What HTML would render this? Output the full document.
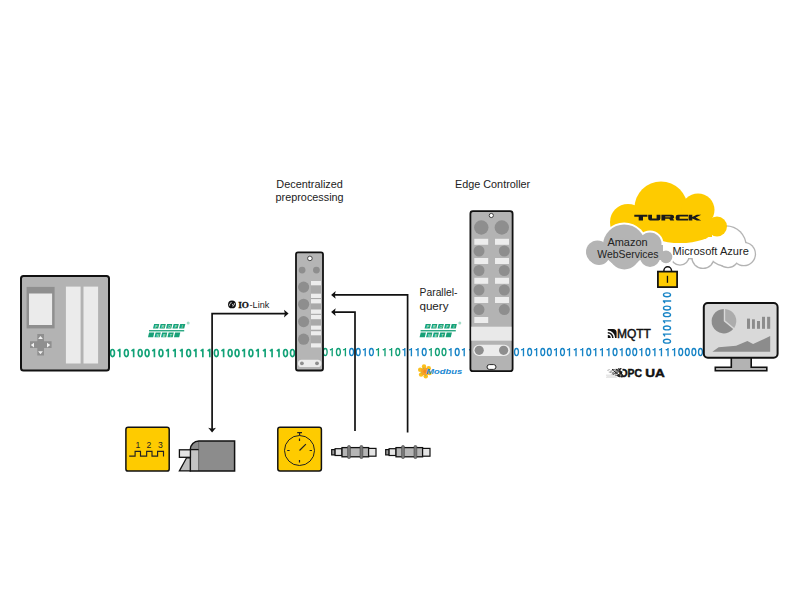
<!DOCTYPE html>
<html><head><meta charset="utf-8">
<style>
html,body{margin:0;padding:0;background:#fff;width:800px;height:600px;overflow:hidden}
svg{display:block;font-family:"Liberation Sans",sans-serif}
.lbl{font-size:10.7px;fill:#222}
.bin{font-size:11.8px;stroke-width:0.5px}
.bin .g,.bin.g{stroke:#16a077}
.bin .b,.bin.b{stroke:#1a8cca}
.g{fill:#16a077}
.b{fill:#1a8cca}
</style></head><body>
<svg width="800" height="600" viewBox="0 0 800 600">
<!-- ===== binary streams (under devices) ===== -->
<defs>
<ellipse id="d0" cx="0" cy="-4.2" rx="1.95" ry="3.55" fill="none" stroke="currentColor"/>
<path id="d1" d="M0.4 0V-8.35M0.4 -7.8L-1.8 -6.2" fill="none" stroke="currentColor"/>
</defs>
<g style="color:#12a277;stroke-width:1.65"><use href="#d0" x="112.50" y="357.2"/><use href="#d1" x="119.42" y="357.2"/><use href="#d0" x="126.34" y="357.2"/><use href="#d1" x="133.26" y="357.2"/><use href="#d0" x="140.18" y="357.2"/><use href="#d0" x="147.10" y="357.2"/><use href="#d1" x="154.02" y="357.2"/><use href="#d0" x="160.94" y="357.2"/><use href="#d1" x="167.86" y="357.2"/><use href="#d1" x="174.78" y="357.2"/><use href="#d1" x="181.70" y="357.2"/><use href="#d0" x="188.62" y="357.2"/><use href="#d1" x="195.54" y="357.2"/><use href="#d1" x="202.46" y="357.2"/><use href="#d1" x="209.38" y="357.2"/><use href="#d0" x="216.30" y="357.2"/><use href="#d1" x="223.22" y="357.2"/><use href="#d0" x="230.14" y="357.2"/><use href="#d0" x="237.06" y="357.2"/><use href="#d1" x="243.98" y="357.2"/><use href="#d0" x="250.90" y="357.2"/><use href="#d1" x="257.82" y="357.2"/><use href="#d1" x="264.74" y="357.2"/><use href="#d1" x="271.66" y="357.2"/><use href="#d1" x="278.58" y="357.2"/><use href="#d0" x="285.50" y="357.2"/><use href="#d0" x="292.42" y="357.2"/></g>
<g style="color:#12a076;stroke-width:1.35"><use href="#d0" x="325.20" y="356.3"/><use href="#d1" x="331.80" y="356.3"/><use href="#d0" x="338.40" y="356.3"/><use href="#d1" x="345.00" y="356.3"/></g>
<g style="color:#1784c6;stroke-width:1.35"><use href="#d0" x="351.60" y="356.3"/><use href="#d0" x="358.20" y="356.3"/><use href="#d1" x="364.80" y="356.3"/><use href="#d0" x="371.40" y="356.3"/></g>
<g style="color:#12a076;stroke-width:1.35"><use href="#d1" x="378.00" y="356.3"/><use href="#d1" x="384.60" y="356.3"/><use href="#d1" x="391.20" y="356.3"/><use href="#d0" x="397.80" y="356.3"/></g>
<g style="color:#1784c6;stroke-width:1.35"><use href="#d1" x="404.40" y="356.3"/><use href="#d1" x="411.00" y="356.3"/><use href="#d1" x="417.60" y="356.3"/><use href="#d0" x="424.20" y="356.3"/></g>
<g style="color:#12a076;stroke-width:1.35"><use href="#d1" x="430.80" y="356.3"/><use href="#d0" x="437.40" y="356.3"/><use href="#d0" x="444.00" y="356.3"/></g>
<g style="color:#1784c6;stroke-width:1.35"><use href="#d1" x="450.60" y="356.3"/><use href="#d0" x="457.20" y="356.3"/><use href="#d1" x="463.80" y="356.3"/><use href="#d1" x="471" y="356.3"/></g>
<g style="color:#1784c6;stroke-width:1.35"><use href="#d0" x="516.50" y="356.3"/><use href="#d1" x="523.07" y="356.3"/><use href="#d0" x="529.64" y="356.3"/><use href="#d1" x="536.21" y="356.3"/><use href="#d0" x="542.78" y="356.3"/><use href="#d0" x="549.35" y="356.3"/><use href="#d1" x="555.92" y="356.3"/><use href="#d0" x="562.49" y="356.3"/><use href="#d1" x="569.06" y="356.3"/><use href="#d1" x="575.63" y="356.3"/><use href="#d1" x="582.20" y="356.3"/><use href="#d0" x="588.77" y="356.3"/><use href="#d1" x="595.34" y="356.3"/><use href="#d1" x="601.91" y="356.3"/><use href="#d1" x="608.48" y="356.3"/><use href="#d0" x="615.05" y="356.3"/><use href="#d1" x="621.62" y="356.3"/><use href="#d0" x="628.19" y="356.3"/><use href="#d0" x="634.76" y="356.3"/><use href="#d1" x="641.33" y="356.3"/><use href="#d0" x="647.90" y="356.3"/><use href="#d1" x="654.47" y="356.3"/><use href="#d1" x="661.04" y="356.3"/><use href="#d1" x="667.61" y="356.3"/><use href="#d1" x="674.18" y="356.3"/><use href="#d0" x="680.75" y="356.3"/><use href="#d0" x="687.32" y="356.3"/><use href="#d0" x="693.89" y="356.3"/><use href="#d0" x="700.46" y="356.3"/></g>

<!-- ===== PLC ===== -->
<rect x="21" y="276" width="88" height="94.5" rx="2.5" fill="#b3b3b3" stroke="#111" stroke-width="2"/>
<rect x="26.6" y="286.9" width="28" height="41.5" fill="#8f8f8f"/>
<rect x="29" y="293.5" width="23.1" height="31.5" fill="#ebebeb"/>
<rect x="65.9" y="286.6" width="14.7" height="76.9" fill="#ebebeb"/>
<rect x="83.5" y="286.6" width="14.6" height="76.9" fill="#ebebeb"/>
<path d="M37.3 334h6.7v7.3h7.6v6.7h-7.6v7.6h-6.7v-7.6h-7.3v-6.7h7.3z" fill="#8f8f8f"/>
<path d="M40.5 336L38.1 339.1H42.9z M40.5 354.3L38.1 351.2H42.9z M30.8 345.1L34 342.7V347.5z M50.3 345.1L47 342.7V347.5z" fill="#f2f2f2"/>

<!-- ===== Decentralized module ===== -->
<rect x="296" y="252.3" width="27" height="118.2" rx="2" fill="#b5b5b5" stroke="#111" stroke-width="1.8"/>
<circle cx="309.9" cy="258.4" r="2.3" fill="#fff" stroke="#222" stroke-width="0.8"/>
<circle cx="302.1" cy="270.1" r="3.4" fill="#8e8e8e"/>
<circle cx="316.4" cy="270.1" r="3.4" fill="#8e8e8e"/>
<rect x="310.8" y="281" width="10.2" height="66.5" fill="#a9a9a9"/>
<g fill="#8e8e8e">
<circle cx="303.6" cy="287.1" r="5.6"/><circle cx="303.6" cy="304.3" r="5.6"/>
<circle cx="303.6" cy="321.6" r="5.6"/><circle cx="303.6" cy="339.2" r="5.6"/>
</g>
<g fill="#ededed">
<rect x="311" y="281" width="10" height="4.3"/>
<rect x="311" y="293.7" width="10" height="4.3"/>
<rect x="311" y="299.1" width="10" height="4.3"/>
<rect x="311" y="309.5" width="10" height="4.3"/>
<rect x="311" y="314.9" width="10" height="4.3"/>
<rect x="311" y="325.6" width="10" height="4.1"/>
<rect x="311" y="331.2" width="10" height="4.1"/>
<rect x="311" y="343.3" width="10" height="4.2"/>
</g>
<rect x="298" y="359.7" width="23.3" height="7.3" rx="3.6" fill="#ececec"/>
<circle cx="301.9" cy="363.3" r="1.9" fill="#8e8e8e"/>
<circle cx="317" cy="363.3" r="1.9" fill="#8e8e8e"/>

<!-- ===== Edge controller ===== -->
<rect x="470.4" y="211.2" width="42.2" height="160" rx="2.5" fill="#b3b3b3" stroke="#111" stroke-width="1.8"/>
<circle cx="491.3" cy="215.5" r="2.1" fill="#fff" stroke="#222" stroke-width="0.8"/>
<g fill="#8e8e8e">
<circle cx="481.3" cy="227.5" r="7.2"/><circle cx="501.8" cy="227.5" r="7.2"/>
<circle cx="479" cy="251" r="5.5"/><circle cx="504.3" cy="251" r="5.5"/>
<circle cx="479" cy="270.5" r="5.5"/><circle cx="504.3" cy="270.5" r="5.5"/>
<circle cx="479" cy="290" r="5.5"/><circle cx="504.3" cy="290" r="5.5"/>
<circle cx="479" cy="309.6" r="5.5"/><circle cx="504.3" cy="309.6" r="5.5"/>
</g>
<g fill="#ededed">
<rect x="474.3" y="238.8" width="13.9" height="6"/><rect x="495" y="238.8" width="14" height="6"/>
<rect x="474.3" y="258" width="13.9" height="6"/><rect x="495" y="258" width="14" height="6"/>
<rect x="474.3" y="277.8" width="13.9" height="6"/><rect x="495" y="277.8" width="14" height="6"/>
<rect x="474.3" y="297" width="13.9" height="6"/><rect x="495" y="297" width="14" height="6"/>
<rect x="474.3" y="317" width="13.9" height="6"/>
<rect x="471.3" y="326.7" width="40.2" height="14" fill="#e9e9e9"/>
</g>
<rect x="473.3" y="344.7" width="36.7" height="11.3" rx="5.6" fill="#ececec"/>
<circle cx="479.2" cy="350.3" r="4.6" fill="#8e8e8e"/>
<circle cx="503.6" cy="350.3" r="4.6" fill="#8e8e8e"/>
<rect x="487" y="364.6" width="9" height="4.8" rx="2.4" fill="#fff" stroke="#111" stroke-width="0.9"/>


<!-- ===== Clouds ===== -->
<g id="azure">
<g fill="#b3b3b3"><circle cx="726" cy="246" r="20.8"/><circle cx="743.8" cy="254" r="12.3"/><circle cx="728" cy="257" r="11.3"/><circle cx="703" cy="257.3" r="11.8"/><circle cx="680" cy="256" r="9.8"/><rect x="668" y="234.7" width="66" height="24.6"/></g>
<g fill="#fff"><circle cx="726" cy="246" r="19.5"/><circle cx="743.8" cy="254" r="11"/><circle cx="728" cy="257" r="10"/><circle cx="703" cy="257.3" r="10.5"/><circle cx="680" cy="256" r="8.5"/><rect x="668" y="236" width="66" height="22"/></g>
</g>
<g id="turckcloud" fill="#fecb00">
<circle cx="628" cy="222" r="18"/><circle cx="661" cy="208" r="26.5"/>
<circle cx="698" cy="210" r="16.5"/><circle cx="717" cy="226.5" r="10"/>
<rect x="620" y="212" width="92" height="25"/>
<ellipse cx="680" cy="232" rx="32" ry="11"/>
</g>
<g fill="#1a1a1a">
<path d="M634.3 214.8H647.4V216.8H643V220.6H638.7V216.8H634.3z"/>
<path d="M648.2 214.8H652V218.6H656.6V214.8H660.4V218.6A2 2 0 0 1 658.4 220.6H650.2A2 2 0 0 1 648.2 218.6z"/>
<path fill-rule="evenodd" d="M661.4 214.8H671.8A2.3 2.3 0 0 1 674.1 217.1V217.4A1.4 1.4 0 0 1 672.9 218.4L674.3 220.6H670.3L669.2 218.8H665.2V220.6H661.4z M665.2 216.5H670.4V217.3H665.2z"/>
<path d="M677.9 214.8H688V216.6H679.6V218.8H688V220.6H677.9A2.2 2.2 0 0 1 675.7 218.4V217A2.2 2.2 0 0 1 677.9 214.8z"/>
<path d="M688.6 214.8H692.3V216.9L696.8 214.8H701.2L695.7 217.6L701.2 220.6H696.8L692.3 218.4V220.6H688.6z"/>
</g>
<g id="aws"><g fill="#fff"><circle cx="624.2" cy="245.7" r="23.3"/><circle cx="650" cy="244" r="13.5"/><circle cx="666" cy="256.9" r="8.3"/><circle cx="597.5" cy="252" r="13.5"/><circle cx="599" cy="254" r="13"/><circle cx="624.4" cy="253.8" r="17.6"/><circle cx="650" cy="257" r="12"/></g><g fill="#b4b4b4"><circle cx="624.2" cy="245.7" r="21.3"/><circle cx="650" cy="244" r="11.5"/><circle cx="666" cy="256.9" r="6.3"/><circle cx="597.5" cy="252" r="11.5"/><circle cx="599" cy="254" r="11"/><circle cx="624.4" cy="253.8" r="15.6"/><circle cx="650" cy="257" r="10"/><rect x="597" y="245" width="66" height="15"/></g></g>
<text class="lbl" x="607.4" y="245.7" textLength="40.2" lengthAdjust="spacingAndGlyphs">Amazon</text>
<text class="lbl" x="597.3" y="257.6" textLength="61.2" lengthAdjust="spacingAndGlyphs">WebServices</text>
<text class="lbl" x="672.6" y="254.7" textLength="76.2" lengthAdjust="spacingAndGlyphs">Microsoft Azure</text>

<!-- lock -->
<path d="M663.9 271.5v-0.9a3.8 3.8 0 0 1 7.6 0v0.9" fill="none" stroke="#111" stroke-width="1.5"/>
<rect x="657.9" y="271.6" width="19.2" height="15.5" fill="#fecb00" stroke="#111" stroke-width="1.75"/>
<rect x="666.8" y="275.8" width="1.3" height="7" fill="#111"/>
<!-- vertical binary -->
<g transform="translate(671.2 341.2) rotate(-90)" style="color:#1784c6;stroke-width:1.35"><use href="#d0" x="0.00" y="0"/><use href="#d1" x="6.63" y="0"/><use href="#d0" x="13.26" y="0"/><use href="#d1" x="19.89" y="0"/><use href="#d0" x="26.52" y="0"/><use href="#d0" x="33.15" y="0"/><use href="#d1" x="39.78" y="0"/><use href="#d0" x="46.41" y="0"/></g>

<!-- MQTT -->
<g fill="#111">
<path d="M607.8 337.9v-2.9a2.9 2.9 0 0 1 2.9 2.9z"/>
<path d="M607.8 333.6v-1.5a5.8 5.8 0 0 1 5.8 5.8h-1.5a4.3 4.3 0 0 0-4.3-4.3z"/>
<path d="M607.8 329.1h5.2a3.6 3.6 0 0 1 3.6 3.6v5.2h-1.5a7.3 7.3 0 0 0-7.3-7.3z"/>
</g>
<text x="616.9" y="337.6" textLength="34" lengthAdjust="spacingAndGlyphs" style="font-size:11.9px;fill:#111;stroke:#111;stroke-width:0.45">MQTT</text>
<!-- OPC UA -->
<g style="font-size:11.8px;font-weight:bold;fill:#111;stroke:#111;stroke-width:0.45">
<text x="619.5" y="377" textLength="22.6" lengthAdjust="spacingAndGlyphs">OPC</text>
<text x="645.3" y="377" textLength="19.6" lengthAdjust="spacingAndGlyphs">UA</text>
</g>
<g><rect x="618.4" y="373.9" width="1.2" height="1.2" fill="rgb(179,179,179)"/><rect x="620.9" y="368.3" width="1.0" height="1.0" fill="rgb(171,171,171)"/><rect x="620.8" y="369.0" width="1.0" height="1.0" fill="rgb(27,27,27)"/><rect x="618.0" y="368.5" width="0.7" height="0.7" fill="rgb(45,45,45)"/><rect x="619.7" y="369.5" width="1.3" height="1.3" fill="rgb(30,30,30)"/><rect x="612.2" y="369.0" width="1.1" height="1.1" fill="rgb(10,10,10)"/><rect x="621.4" y="375.4" width="0.9" height="0.9" fill="rgb(163,163,163)"/><rect x="618.9" y="369.8" width="1.4" height="1.4" fill="rgb(48,48,48)"/><rect x="620.7" y="370.5" width="0.9" height="0.9" fill="rgb(7,7,7)"/><rect x="610.7" y="370.7" width="0.8" height="0.8" fill="rgb(33,33,33)"/><rect x="615.4" y="370.7" width="1.1" height="1.1" fill="rgb(15,15,15)"/><rect x="617.1" y="373.5" width="0.6" height="0.6" fill="rgb(121,121,121)"/><rect x="619.6" y="374.9" width="0.6" height="0.6" fill="rgb(18,18,18)"/><rect x="618.0" y="368.4" width="0.6" height="0.6" fill="rgb(47,47,47)"/><rect x="613.4" y="373.4" width="1.1" height="1.1" fill="rgb(147,147,147)"/><rect x="615.6" y="372.1" width="1.1" height="1.1" fill="rgb(37,37,37)"/><rect x="619.9" y="375.1" width="0.6" height="0.6" fill="rgb(127,127,127)"/><rect x="615.5" y="372.7" width="1.2" height="1.2" fill="rgb(46,46,46)"/><rect x="617.7" y="370.7" width="0.8" height="0.8" fill="rgb(3,3,3)"/><rect x="612.6" y="372.9" width="1.2" height="1.2" fill="rgb(2,2,2)"/><rect x="621.4" y="372.5" width="1.0" height="1.0" fill="rgb(29,29,29)"/><rect x="620.2" y="371.8" width="1.0" height="1.0" fill="rgb(45,45,45)"/><rect x="609.6" y="371.6" width="0.9" height="0.9" fill="rgb(36,36,36)"/><rect x="621.1" y="373.3" width="1.3" height="1.3" fill="rgb(21,21,21)"/><rect x="612.6" y="373.8" width="0.7" height="0.7" fill="rgb(49,49,49)"/><rect x="620.4" y="376.1" width="1.0" height="1.0" fill="rgb(36,36,36)"/><rect x="617.0" y="370.5" width="0.9" height="0.9" fill="rgb(18,18,18)"/><rect x="621.4" y="376.1" width="1.2" height="1.2" fill="rgb(16,16,16)"/><rect x="611.3" y="370.5" width="1.0" height="1.0" fill="rgb(148,148,148)"/><rect x="619.9" y="374.4" width="1.2" height="1.2" fill="rgb(37,37,37)"/><rect x="615.7" y="373.3" width="0.7" height="0.7" fill="rgb(38,38,38)"/><rect x="619.1" y="370.5" width="1.4" height="1.4" fill="rgb(29,29,29)"/><rect x="608.6" y="371.8" width="0.5" height="0.5" fill="rgb(157,157,157)"/><rect x="620.1" y="373.4" width="1.3" height="1.3" fill="rgb(32,32,32)"/><rect x="619.5" y="374.7" width="0.9" height="0.9" fill="rgb(43,43,43)"/><rect x="619.0" y="375.8" width="1.4" height="1.4" fill="rgb(26,26,26)"/><rect x="612.9" y="373.8" width="1.1" height="1.1" fill="rgb(34,34,34)"/><rect x="619.3" y="373.9" width="0.7" height="0.7" fill="rgb(29,29,29)"/><rect x="618.8" y="371.5" width="1.1" height="1.1" fill="rgb(31,31,31)"/><rect x="619.3" y="368.4" width="0.7" height="0.7" fill="rgb(32,32,32)"/><rect x="613.8" y="373.0" width="0.9" height="0.9" fill="rgb(23,23,23)"/><rect x="613.9" y="369.1" width="0.6" height="0.6" fill="rgb(9,9,9)"/><rect x="613.4" y="369.1" width="0.8" height="0.8" fill="rgb(30,30,30)"/><rect x="618.1" y="370.1" width="1.3" height="1.3" fill="rgb(20,20,20)"/><rect x="614.7" y="371.3" width="0.6" height="0.6" fill="rgb(149,149,149)"/><rect x="609.8" y="372.2" width="0.5" height="0.5" fill="rgb(147,147,147)"/><rect x="618.1" y="375.5" width="1.2" height="1.2" fill="rgb(40,40,40)"/><rect x="618.6" y="371.1" width="0.7" height="0.7" fill="rgb(28,28,28)"/><rect x="621.2" y="376.2" width="1.2" height="1.2" fill="rgb(44,44,44)"/><rect x="607.4" y="369.9" width="0.7" height="0.7" fill="rgb(131,131,131)"/><rect x="618.5" y="375.1" width="0.9" height="0.9" fill="rgb(11,11,11)"/><rect x="614.8" y="374.9" width="0.8" height="0.8" fill="rgb(193,193,193)"/><rect x="618.2" y="370.3" width="1.4" height="1.4" fill="rgb(20,20,20)"/><rect x="615.2" y="375.1" width="0.9" height="0.9" fill="rgb(23,23,23)"/><rect x="612.1" y="372.4" width="0.7" height="0.7" fill="rgb(39,39,39)"/><rect x="620.2" y="368.2" width="1.1" height="1.1" fill="rgb(46,46,46)"/><rect x="619.8" y="370.1" width="0.8" height="0.8" fill="rgb(49,49,49)"/><rect x="614.9" y="372.6" width="0.9" height="0.9" fill="rgb(30,30,30)"/><rect x="619.5" y="369.1" width="1.3" height="1.3" fill="rgb(26,26,26)"/><rect x="615.4" y="370.6" width="0.9" height="0.9" fill="rgb(18,18,18)"/><rect x="619.5" y="372.9" width="0.6" height="0.6" fill="rgb(22,22,22)"/><rect x="620.9" y="375.4" width="1.1" height="1.1" fill="rgb(38,38,38)"/><rect x="616.5" y="372.5" width="1.1" height="1.1" fill="rgb(24,24,24)"/><rect x="620.8" y="371.3" width="1.0" height="1.0" fill="rgb(9,9,9)"/><rect x="614.9" y="374.0" width="0.5" height="0.5" fill="rgb(175,175,175)"/><rect x="616.5" y="370.5" width="1.2" height="1.2" fill="rgb(131,131,131)"/><rect x="617.0" y="372.4" width="0.9" height="0.9" fill="rgb(7,7,7)"/><rect x="618.1" y="374.4" width="0.6" height="0.6" fill="rgb(40,40,40)"/><rect x="619.9" y="373.5" width="0.6" height="0.6" fill="rgb(48,48,48)"/><rect x="621.5" y="374.0" width="0.6" height="0.6" fill="rgb(10,10,10)"/><rect x="618.7" y="375.5" width="1.2" height="1.2" fill="rgb(14,14,14)"/><rect x="620.9" y="369.3" width="1.2" height="1.2" fill="rgb(8,8,8)"/><rect x="618.4" y="368.6" width="0.6" height="0.6" fill="rgb(3,3,3)"/><rect x="610.5" y="372.1" width="0.9" height="0.9" fill="rgb(130,130,130)"/><rect x="616.5" y="370.7" width="1.0" height="1.0" fill="rgb(46,46,46)"/><rect x="615.9" y="369.0" width="1.1" height="1.1" fill="rgb(31,31,31)"/><rect x="617.3" y="375.0" width="1.0" height="1.0" fill="rgb(13,13,13)"/><rect x="617.8" y="370.3" width="1.2" height="1.2" fill="rgb(6,6,6)"/><rect x="614.0" y="371.1" width="1.0" height="1.0" fill="rgb(35,35,35)"/><rect x="618.7" y="368.9" width="1.1" height="1.1" fill="rgb(6,6,6)"/><rect x="618.2" y="370.1" width="1.3" height="1.3" fill="rgb(16,16,16)"/><rect x="619.9" y="368.4" width="1.2" height="1.2" fill="rgb(7,7,7)"/><rect x="621.1" y="373.8" width="0.8" height="0.8" fill="rgb(48,48,48)"/><rect x="618.8" y="374.6" width="0.7" height="0.7" fill="rgb(17,17,17)"/><rect x="614.0" y="370.8" width="0.9" height="0.9" fill="rgb(19,19,19)"/><rect x="612.4" y="373.7" width="0.9" height="0.9" fill="rgb(154,154,154)"/><rect x="620.4" y="372.3" width="1.1" height="1.1" fill="rgb(37,37,37)"/><rect x="616.1" y="369.2" width="0.5" height="0.5" fill="rgb(1,1,1)"/><rect x="620.7" y="372.1" width="1.3" height="1.3" fill="rgb(23,23,23)"/><rect x="620.7" y="373.2" width="1.0" height="1.0" fill="rgb(4,4,4)"/><rect x="612.7" y="369.8" width="0.7" height="0.7" fill="rgb(44,44,44)"/><rect x="612.7" y="370.4" width="0.6" height="0.6" fill="rgb(14,14,14)"/><rect x="614.0" y="371.8" width="0.5" height="0.5" fill="rgb(149,149,149)"/><rect x="621.0" y="373.8" width="1.2" height="1.2" fill="rgb(47,47,47)"/><rect x="612.0" y="372.7" width="0.6" height="0.6" fill="rgb(178,178,178)"/><rect x="612.9" y="370.1" width="0.5" height="0.5" fill="rgb(3,3,3)"/><rect x="616.2" y="375.2" width="0.8" height="0.8" fill="rgb(23,23,23)"/><rect x="614.7" y="373.4" width="1.0" height="1.0" fill="rgb(12,12,12)"/><rect x="618.9" y="375.5" width="1.1" height="1.1" fill="rgb(48,48,48)"/><rect x="608.1" y="369.6" width="0.8" height="0.8" fill="rgb(123,123,123)"/><rect x="617.7" y="375.6" width="1.0" height="1.0" fill="rgb(4,4,4)"/><rect x="610.9" y="373.8" width="0.7" height="0.7" fill="rgb(124,124,124)"/><rect x="614.2" y="369.1" width="0.8" height="0.8" fill="rgb(12,12,12)"/><rect x="616.3" y="370.6" width="0.6" height="0.6" fill="rgb(48,48,48)"/><rect x="613.1" y="371.9" width="0.7" height="0.7" fill="rgb(4,4,4)"/><rect x="615.1" y="369.4" width="0.9" height="0.9" fill="rgb(167,167,167)"/><rect x="620.4" y="369.9" width="0.6" height="0.6" fill="rgb(24,24,24)"/><rect x="618.0" y="371.2" width="1.1" height="1.1" fill="rgb(45,45,45)"/><rect x="615.0" y="371.6" width="1.1" height="1.1" fill="rgb(5,5,5)"/><rect x="615.1" y="369.2" width="1.1" height="1.1" fill="rgb(145,145,145)"/><rect x="612.2" y="369.4" width="0.6" height="0.6" fill="rgb(21,21,21)"/><rect x="618.0" y="370.2" width="0.6" height="0.6" fill="rgb(2,2,2)"/><rect x="613.5" y="370.5" width="0.7" height="0.7" fill="rgb(21,21,21)"/><rect x="615.1" y="373.6" width="0.9" height="0.9" fill="rgb(172,172,172)"/><rect x="619.6" y="372.7" width="1.0" height="1.0" fill="rgb(32,32,32)"/><rect x="621.2" y="374.1" width="1.3" height="1.3" fill="rgb(40,40,40)"/><rect x="616.0" y="369.5" width="0.6" height="0.6" fill="rgb(13,13,13)"/><rect x="618.9" y="370.5" width="0.6" height="0.6" fill="rgb(27,27,27)"/><rect x="609.4" y="369.5" width="0.5" height="0.5" fill="rgb(42,42,42)"/><rect x="621.1" y="373.2" width="0.8" height="0.8" fill="rgb(18,18,18)"/><rect x="615.3" y="368.7" width="1.0" height="1.0" fill="rgb(178,178,178)"/><rect x="611.5" y="371.9" width="0.5" height="0.5" fill="rgb(155,155,155)"/><rect x="621.0" y="374.7" width="0.7" height="0.7" fill="rgb(45,45,45)"/><rect x="616.8" y="371.5" width="0.9" height="0.9" fill="rgb(194,194,194)"/><rect x="617.6" y="375.5" width="1.0" height="1.0" fill="rgb(40,40,40)"/><rect x="616.4" y="368.9" width="1.3" height="1.3" fill="rgb(28,28,28)"/><rect x="617.1" y="374.7" width="0.9" height="0.9" fill="rgb(13,13,13)"/><rect x="613.5" y="372.2" width="0.7" height="0.7" fill="rgb(139,139,139)"/><rect x="615.6" y="370.3" width="1.3" height="1.3" fill="rgb(187,187,187)"/><rect x="618.4" y="371.3" width="0.7" height="0.7" fill="rgb(159,159,159)"/><rect x="609.8" y="370.0" width="0.5" height="0.5" fill="rgb(192,192,192)"/><rect x="613.5" y="373.6" width="0.7" height="0.7" fill="rgb(189,189,189)"/><rect x="618.4" y="374.4" width="0.9" height="0.9" fill="rgb(25,25,25)"/><rect x="618.1" y="369.7" width="0.9" height="0.9" fill="rgb(1,1,1)"/><rect x="615.1" y="371.2" width="0.9" height="0.9" fill="rgb(151,151,151)"/><rect x="621.4" y="374.9" width="1.5" height="1.5" fill="rgb(33,33,33)"/><rect x="617.6" y="374.2" width="0.8" height="0.8" fill="rgb(33,33,33)"/><rect x="617.5" y="370.5" width="0.6" height="0.6" fill="rgb(17,17,17)"/><rect x="618.0" y="374.0" width="1.2" height="1.2" fill="rgb(46,46,46)"/><rect x="614.6" y="373.3" width="0.5" height="0.5" fill="rgb(173,173,173)"/><rect x="621.2" y="375.6" width="1.2" height="1.2" fill="rgb(36,36,36)"/><rect x="618.3" y="369.9" width="1.0" height="1.0" fill="rgb(139,139,139)"/><rect x="621.3" y="372.6" width="1.0" height="1.0" fill="rgb(19,19,19)"/><rect x="613.1" y="372.7" width="1.1" height="1.1" fill="rgb(169,169,169)"/><rect x="616.0" y="369.3" width="1.1" height="1.1" fill="rgb(35,35,35)"/><rect x="615.9" y="374.6" width="0.7" height="0.7" fill="rgb(13,13,13)"/><rect x="618.4" y="375.1" width="0.7" height="0.7" fill="rgb(38,38,38)"/><rect x="613.9" y="369.2" width="0.9" height="0.9" fill="rgb(190,190,190)"/><rect x="619.4" y="371.5" width="0.9" height="0.9" fill="rgb(45,45,45)"/><rect x="615.0" y="370.5" width="1.0" height="1.0" fill="rgb(134,134,134)"/>
<path d="M606 374.8h10.5v0.6H606zM606.5 375.9h10v0.6h-10zM606 377h11v0.5h-11z" fill="#cfcfcf"/>
<circle cx="621.6" cy="370.2" r="1.1" fill="#fff"/><circle cx="622.8" cy="373.4" r="0.7" fill="#fff"/><circle cx="620.8" cy="375" r="0.6" fill="#fff"/>
</g>
<!-- ===== Monitor ===== -->
<path d="M731.3 357.5V367.3H715.3V370.8H766.8V367.3H751.2V357.5" fill="#b3b3b3" stroke="#111" stroke-width="1.6"/>
<rect x="703.8" y="303.1" width="73.8" height="54.7" rx="4" fill="#d9d9d9" stroke="#111" stroke-width="2"/>
<path d="M723.8 321.2V309a12.2 12.2 0 1 0 9.4 20z" fill="#8c8c8c"/>
<path d="M725.2 308.9v11.6l9 7.4a12.2 12.2 0 0 0-9-19z" fill="#acacac"/>
<g fill="#8c8c8c">
<rect x="747" y="318.6" width="3" height="10.2"/><rect x="752" y="319.3" width="2.9" height="9.5"/>
<rect x="757" y="321" width="3" height="7.8"/><rect x="762" y="316.8" width="3" height="12"/><rect x="767.1" y="316.8" width="3.1" height="12"/>
<path d="M712.4 351.8L718.6 347.3L736.1 345.7L747.4 340.9L753.1 344.1L770.2 336.1V351.8z"/>
</g>

<!-- PROFINET -->
<g id="pn"><g fill="#17a077"><path d="M425.7 323.9h5.2l-1.1 4.6h-5.2z"/><path d="M432.2 323.9h5.2l-1.1 4.6h-5.2z"/><path d="M438.7 323.9h5.2l-1.1 4.6h-5.2z"/><path d="M445.2 323.9h5.2l-1.1 4.6h-5.2z"/><path d="M451.7 323.9h5.2l-1.1 4.6h-5.2z"/><rect x="420.6" y="330.1" width="35.2" height="1.3"/><path d="M420.7 332.6h5.2l-1.1 4.7h-5.2z"/><path d="M427.2 332.6h5.2l-1.1 4.7h-5.2z"/><path d="M433.7 332.6h5.2l-1.1 4.7h-5.2z"/><path d="M440.2 332.6h5.2l-1.1 4.7h-5.2z"/><path d="M446.7 332.6h5.2l-1.1 4.7h-5.2z"/><circle cx="459.8" cy="323" r="1.5" fill="#a5dcc8"/></g><text x="427.75" y="327.7" text-anchor="middle" style="font-size:3.9px;font-weight:bold;font-style:italic;fill:#b9e6d4">P</text><text x="434.25" y="327.7" text-anchor="middle" style="font-size:3.9px;font-weight:bold;font-style:italic;fill:#b9e6d4">R</text><text x="440.75" y="327.7" text-anchor="middle" style="font-size:3.9px;font-weight:bold;font-style:italic;fill:#b9e6d4">O</text><text x="447.25" y="327.7" text-anchor="middle" style="font-size:3.9px;font-weight:bold;font-style:italic;fill:#b9e6d4">F</text><text x="453.75" y="327.7" text-anchor="middle" style="font-size:3.9px;font-weight:bold;font-style:italic;fill:#b9e6d4">I</text><text x="429.25" y="336.5" text-anchor="middle" style="font-size:3.9px;font-weight:bold;font-style:italic;fill:#b9e6d4">N</text><text x="435.75" y="336.5" text-anchor="middle" style="font-size:3.9px;font-weight:bold;font-style:italic;fill:#b9e6d4">E</text><text x="442.25" y="336.5" text-anchor="middle" style="font-size:3.9px;font-weight:bold;font-style:italic;fill:#b9e6d4">T</text></g>
<use href="#pn" x="-271.6"/>
<!-- Modbus -->
<g fill="#fbbf1c"><circle cx="424.03" cy="366.48" r="2.2"/><circle cx="428.73" cy="368.19" r="2.2"/><circle cx="429.60" cy="373.11" r="2.2"/><circle cx="425.77" cy="376.32" r="2.2"/><circle cx="421.07" cy="374.61" r="2.2"/><circle cx="420.20" cy="369.69" r="2.2"/><circle cx="424.9" cy="371.4" r="3.9" fill="#f7a326"/>
<circle cx="424.9" cy="371.4" r="1.6" fill="#f28c1e"/>
<circle cx="423.4" cy="368.2" r="0.6" fill="#9cc54a"/><circle cx="421" cy="372.8" r="0.6" fill="#9cc54a"/><circle cx="425.6" cy="375.6" r="0.6" fill="#9cc54a"/><circle cx="428.6" cy="369.2" r="0.6" fill="#9cc54a"/>
</g>
<text x="426.2" y="374" textLength="36" lengthAdjust="spacingAndGlyphs" style="font-size:7.8px;font-weight:bold;font-style:italic;fill:#2088d2">Modbus</text>
<!-- ===== Counter ===== -->
<rect x="125.9" y="427.2" width="43.3" height="43.9" rx="2.2" fill="#fecb00" stroke="#111" stroke-width="1.5"/>
<text x="137.8" y="447.5" text-anchor="middle" style="font-size:8.6px;fill:#222">1</text>
<text x="149" y="447.5" text-anchor="middle" style="font-size:8.6px;fill:#222">2</text>
<text x="160.5" y="447.5" text-anchor="middle" style="font-size:8.6px;fill:#222">3</text>
<path d="M129.2 456.1H135.1V451.3H140.5V456.1H146.65V451.3H152V456.1H157.6V451.3H163.5V456.6" fill="none" stroke="#222" stroke-width="1.15"/>

<!-- ===== Encoder ===== -->
<path d="M190.3 470.9V449.6a8.6 8.6 0 0 1 8.6-8.6H234.6V470.9z" fill="#8c8c8c"/>
<rect x="190.3" y="449.6" width="8.3" height="21.3" fill="#c3c3c3"/>
<rect x="198.1" y="441.5" width="1.1" height="29.4" fill="#6a6a6a"/>
<path d="M190.3 470.9V449.6a8.6 8.6 0 0 1 8.6-8.6H234.6V470.9z" fill="none" stroke="#111" stroke-width="1.5"/>
<path d="M179.4 470.9l7.2-13.1h3.7v13.1z" fill="#bdbdbd" stroke="#111" stroke-width="1.3" stroke-linejoin="miter"/>
<rect x="179.4" y="449.8" width="11" height="7.5" fill="#e3e3e3" stroke="#111" stroke-width="1.3"/>
<path d="M190.3 449.6h8.3" stroke="#111" stroke-width="1.3"/>

<!-- ===== Timer ===== -->
<rect x="277.8" y="427.3" width="43.6" height="43.7" rx="2.2" fill="#fecb00" stroke="#111" stroke-width="1.5"/>
<circle cx="299.5" cy="450.5" r="15" fill="none" stroke="#222" stroke-width="1"/>
<path d="M297.2 432.6h4.8M299.6 432.6v2.9M299.5 438.6v2.4M299.5 460v2.4M287.2 450.5h2.4M309.6 450.5h2.4M299.5 450.5l6.4-6.4" stroke="#222" stroke-width="1.2" fill="none"/>

<!-- ===== Connectors ===== -->
<g id="conn">
<rect x="331.7" y="449.6" width="3.4" height="5.3" fill="#9a9a9a" stroke="#111" stroke-width="1.2"/>
<rect x="335.1" y="448.7" width="6.9" height="6.8" fill="#e4e4e4" stroke="#111" stroke-width="1.2"/>
<rect x="342" y="447.6" width="26.6" height="9.2" fill="#b5b5b5" stroke="#111" stroke-width="1.3"/>
<rect x="368.6" y="448.4" width="7.4" height="7.8" fill="#e4e4e4" stroke="#111" stroke-width="1.2"/>
<rect x="347.6" y="445.6" width="2.8" height="12.9" rx="1" fill="#7a7a7a" stroke="#444" stroke-width="0.6"/>
<rect x="360" y="445.6" width="2.8" height="12.9" rx="1" fill="#7a7a7a" stroke="#444" stroke-width="0.6"/>
</g>
<use href="#conn" x="54"/>

<!-- ===== Labels ===== -->
<text class="lbl" x="276.3" y="187.8" textLength="66.6" lengthAdjust="spacingAndGlyphs">Decentralized</text>
<text class="lbl" x="275.6" y="201.3" textLength="68" lengthAdjust="spacingAndGlyphs">preprocessing</text>
<text class="lbl" x="455" y="188.1" textLength="75.2" lengthAdjust="spacingAndGlyphs">Edge Controller</text>
<text class="lbl" x="419.6" y="296.3" textLength="37.8" lengthAdjust="spacingAndGlyphs">Parallel-</text>
<text class="lbl" x="419.4" y="309.7" textLength="29.2" lengthAdjust="spacingAndGlyphs">query</text>

<!-- ===== Arrows ===== -->
<g stroke="#111" stroke-width="1.7" fill="none">
<path d="M212.1 430V313.6H286"/>
<path d="M355 431V312.1H333.5"/>
<path d="M407.6 432.5V294.9H333.5"/>
</g>
<g fill="#111">
<path d="M288.6 313.6L284 309.7L284.9 313.6L284 317.5z"/>
<path d="M331.1 312.1L335.7 308.2L334.8 312.1L335.7 316z"/>
<path d="M331.1 294.9L335.7 291L334.8 294.9L335.7 298.8z"/>
<path d="M212.1 432.4L208.2 427.8L212.1 428.7L216 427.8z"/>
</g>

<!-- IO-Link -->
<circle cx="232" cy="304.4" r="3.95" fill="#111"/>
<path d="M229.6 305.6c-.2-1.6.6-2.8 2-2.9M232.1 304.2c.6 .1 .8 .5 .8 1M234.4 303.2c.2 1.6-.6 2.8-2 2.9" stroke="#fff" stroke-width="0.9" fill="none"/>
<text x="238.3" y="307.8" textLength="10.7" lengthAdjust="spacingAndGlyphs" style="font-size:8.6px;font-weight:bold;fill:#111;font-family:'Liberation Serif',serif;stroke:#111;stroke-width:0.3">IO</text>
<text x="249.6" y="307.8" textLength="19.6" lengthAdjust="spacingAndGlyphs" style="font-size:8.9px;fill:#222">-Link</text>

</svg>
</body></html>
